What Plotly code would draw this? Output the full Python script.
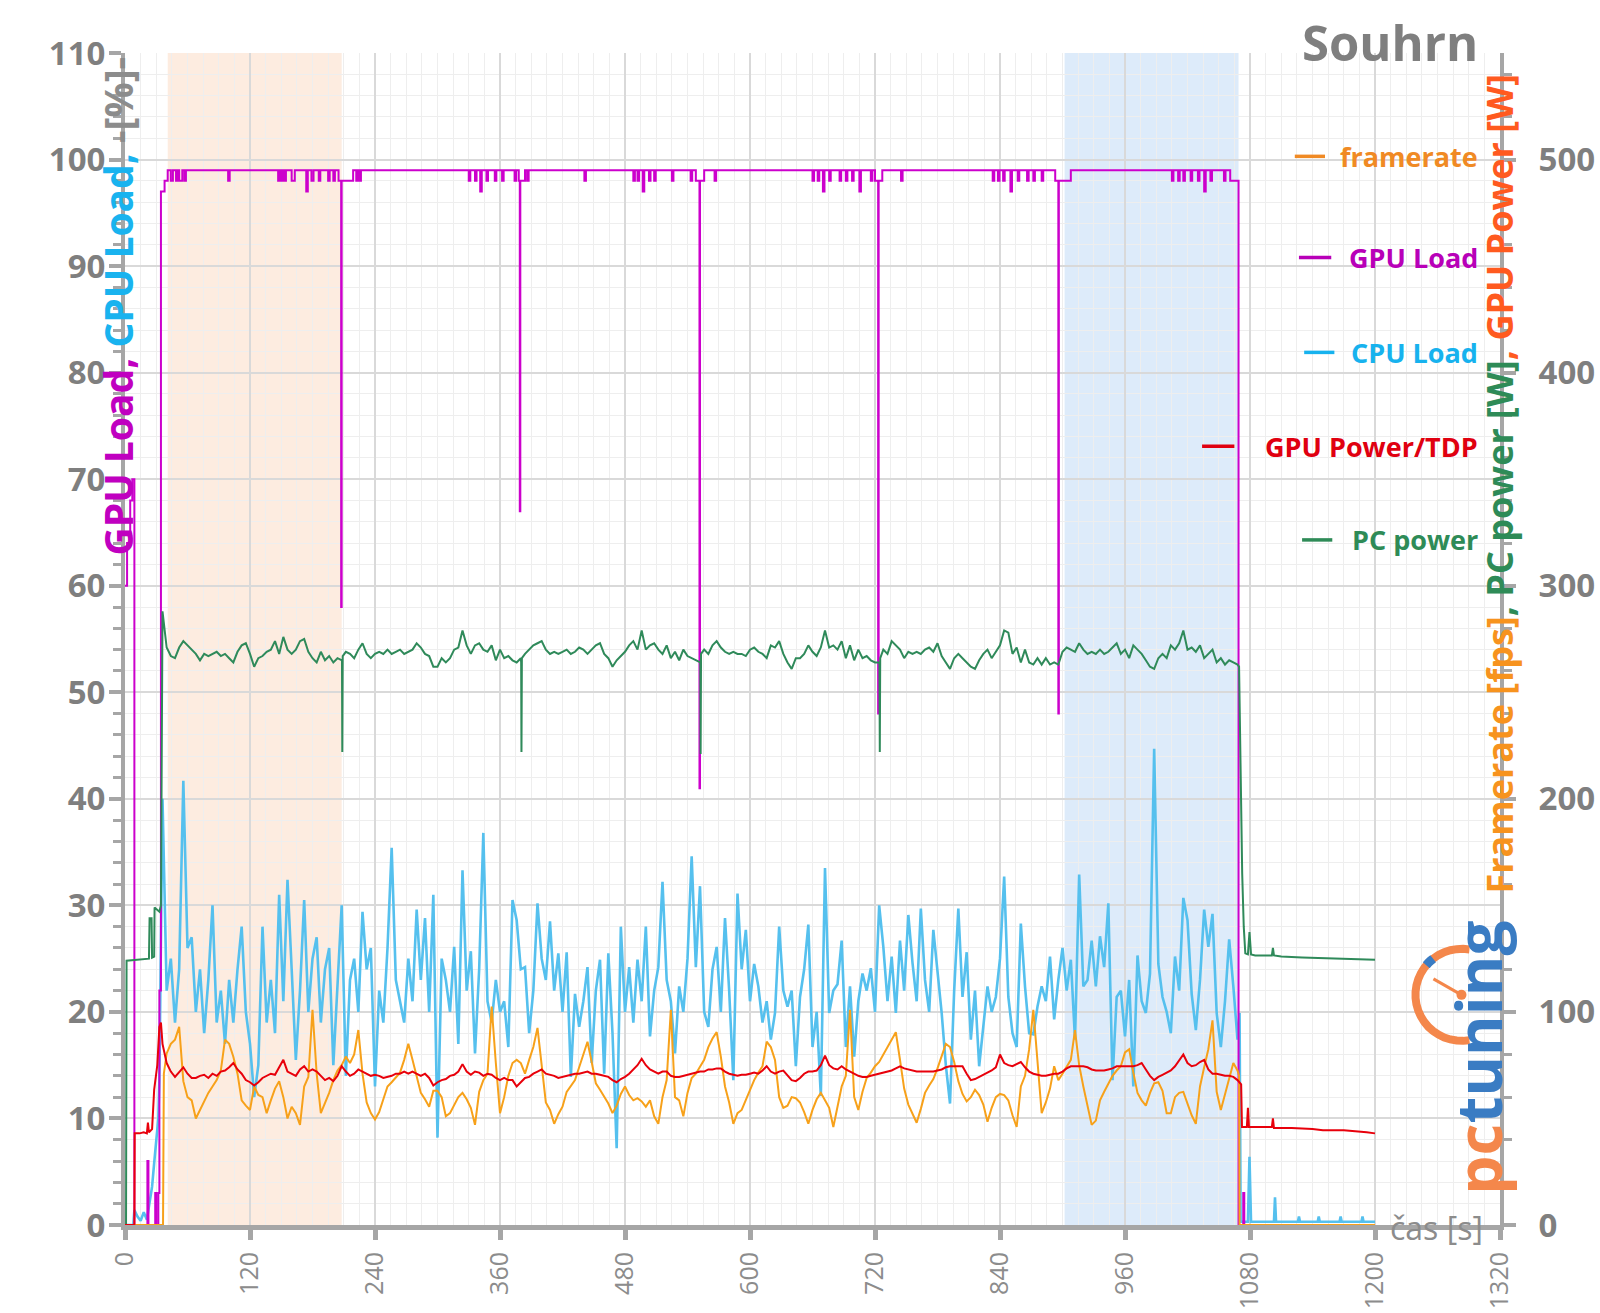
import math
import plotly.graph_objects as go

FONT = "Open Sans"

# ---------------- data ----------------
# Loaded segment sampled every 4 s starting at 36 s (CPU, PC power, GPU power) / 40 s (framerate)
grid_t = list(range(36, 1069, 4))
fps_grid_t = list(range(40, 1069, 4))

# CPU load [%]
cpu_t_pre = [0, 8, 9, 12, 15, 18, 21, 24, 26, 28, 30, 32, 33]
cpu_pre = [0, 0, 1.4, 0.8, 0.4, 1.2, 0.5, 2.5, 3.6, 5.8, 8, 10, 13.6]
cpu_load = [
    40, 22, 25, 19, 24, 41.7, 26, 27, 20, 24,
    18, 23, 30, 19, 22, 17, 23, 19, 24, 28,
    20, 17, 12, 15, 28, 19, 23, 18, 31, 21,
    32.4, 24, 15.5, 22, 30.5, 20, 25, 27, 19, 24,
    26, 15, 22, 30, 14, 23, 25, 20, 29.4, 24,
    26, 13, 22, 19, 26, 35.4, 23, 21, 19, 25,
    21, 29.6, 23, 28.8, 20, 31, 8.2, 25, 23, 20,
    26.1, 17, 33.3, 22, 25.7, 16.1, 24, 36.8, 21, 19,
    23, 20, 21, 16.7, 30.5, 28.6, 24, 24.2, 18, 22,
    30.2, 25, 23, 28.5, 22, 25.5, 20, 25.6, 13.9, 21.7,
    18.6, 21, 24.2, 15.2, 22, 24.9, 14.2, 25.5, 18, 7.2,
    28, 20, 24.2, 19, 24.9, 21, 28, 17.7, 22, 24.2,
    32.2, 23, 21, 16.1, 22.4, 20, 25, 34.6, 24.2, 31.8,
    20, 18.6, 24, 26.1, 20, 28.8, 22, 13.6, 31.1, 24,
    27.7, 21, 24.5, 22.4, 19, 21, 17.4, 19.9, 28, 22,
    20.5, 22, 14.9, 21.4, 24, 28.2, 16.7, 20, 12.1, 33.5,
    19.9, 22, 22.6, 26.7, 16.7, 22.4, 15.8, 21, 23.6, 22,
    24.1, 20, 30, 26.1, 21, 25.2, 19.9, 26.7, 22, 29.1,
    24.6, 21, 29.7, 23, 20, 27.7, 23.6, 19.9, 15, 11.4,
    22, 29.7, 21.4, 25.6, 17.4, 22, 14.9, 19, 22.4, 20,
    21.4, 25, 32.7, 21.4, 18, 16.7, 28.3, 22.4, 18, 17.9,
    20.5, 22.4, 21, 25.2, 19.3, 23, 26, 22, 24.9, 17.4,
    32.9, 22.4, 23, 26.7, 22.4, 27.1, 24.2, 30.2, 13.6, 21.4,
    22, 17.7, 23, 13, 25.3, 21, 19.9, 23.6, 44.7, 24.5,
    21.4, 20, 18, 25.2, 22, 30.7, 28.6, 21.7, 18.3, 23,
    29.6, 26.1, 29.2, 19.9, 16.7, 21, 26.8, 22.4, 17.4,
]
cpu_t_post = [1070, 1071, 1078, 1079.5, 1081, 1103, 1104, 1105, 1126, 1127, 1128,
              1145, 1146, 1147, 1166, 1167, 1168, 1187, 1188, 1189, 1200]
cpu_post = [19.9, 0.3, 0.3, 6.4, 0.3, 0.3, 2.6, 0.3, 0.3, 0.8, 0.3,
            0.3, 0.8, 0.3, 0.3, 0.8, 0.3, 0.3, 0.8, 0.3, 0.3]

# Framerate [fps]
fps_t_pre = [0, 36.5, 37.3]
fps_pre = [0, 0, 71]
framerate = [
    80.5, 85, 87, 93, 67.5, 60, 58.5, 50, 54, 57.5,
    62, 65, 68, 72.5, 87, 85, 79, 71, 58.5, 56,
    54, 65, 61, 60, 52.5, 58.5, 64, 67.5, 60, 50,
    55.5, 52.5, 47, 65, 69.5, 101, 71, 52.5, 57.5, 62,
    68, 72.5, 75, 79, 76, 80, 91.5, 71, 57.5, 52.5,
    49.5, 53, 59, 65, 67, 69, 71.5, 77.5, 85, 77.5,
    69.5, 62, 59, 55.5, 63, 63, 60, 51, 52.5, 56,
    60, 62, 59, 55, 47, 62.5, 68, 71, 102.5, 76,
    52.5, 60, 70, 76, 77.5, 76, 71, 77.5, 83.5, 92.5,
    74.5, 57.5, 54, 47.5, 52, 55.5, 62.5, 65, 68, 74,
    80.5, 86, 76.5, 66.5, 63.5, 60, 57, 52.5, 56, 61.5,
    65, 61, 58.5, 59.5, 58, 55.5, 58.5, 51, 47.5, 60,
    68, 101, 60, 58.5, 51, 62, 69, 71, 74.5, 77.5,
    83.5, 87.5, 90.5, 79, 65, 57.5, 47.5, 52.5, 54, 58.5,
    63, 68, 71.5, 74.5, 86, 83.5, 77.5, 60, 55, 56,
    60, 59.5, 57.5, 53, 47.5, 54, 59, 62, 58.5, 55,
    46, 55, 65, 70, 101, 60, 54, 62.5, 69, 71.5,
    74.5, 76.5, 80, 84, 87, 90.5, 77.5, 64, 56.5, 52.5,
    48, 54.5, 62, 65.5, 68.5, 73.5, 79, 85, 83.5, 76.5,
    67.5, 61.5, 58, 60, 63.5, 61, 56.5, 48.5, 55, 60,
    61.5, 61, 58.5, 51.5, 46, 65, 70, 82.5, 101, 74.5,
    52.5, 57.5, 64, 74.5, 68, 71, 74.5, 77.5, 91.5, 75,
    65, 55.5, 47, 49, 58.5, 62.5, 66.5, 70, 72.5, 74.5,
    81, 82.5, 71.5, 62, 58.5, 56, 62, 66.5, 67, 63,
    52.5, 52.5, 60, 62, 62.5, 57, 51.5, 47.5, 65, 74,
    82.5, 96, 62.5, 54, 61.5, 68, 76, 72.5,
]
fps_t_post = [1069.5, 1070, 1200]
fps_post = [70, 0, 0]

# GPU power [W]
gpup_t_pre = [0, 9, 9.3, 14, 18, 21, 22, 23, 26, 28, 31, 33, 34.5]
gpup_pre = [0, 0, 43, 43, 43.5, 43, 48, 43.5, 45, 63.5, 75, 93, 95]
gpu_power = [
    85, 76, 72, 69.5, 72, 74, 71, 69, 69, 70,
    70.5, 69, 71, 70, 72, 72.5, 74, 76, 73, 71,
    68, 67, 65.5, 67, 69, 70, 71, 70.5, 74, 77.5,
    72, 71, 70, 73, 74.5, 72, 73, 72, 70, 68,
    69, 67.5, 70, 74.5, 72, 70, 71, 73, 72, 71,
    70, 70.5, 70, 69, 69.5, 70, 71, 71, 72, 71,
    72, 71, 70, 71, 69, 65.5, 67, 68, 68.5, 70,
    70.5, 72, 75.5, 72, 70.5, 72, 71.5, 70, 71, 70.5,
    69, 68, 69, 68, 68, 65, 67, 69, 69.5, 71,
    72, 73, 71, 70.5, 70, 69, 69.5, 70, 70.5, 71,
    71, 71.5, 72, 71, 71, 70.5, 70, 69.5, 68, 67,
    68.5, 69.5, 71, 73, 75, 78, 75, 73, 72, 71,
    72, 72, 70, 69.5, 69.5, 70, 70.5, 71, 71.5, 72,
    72, 73, 73, 73.5, 73.5, 72, 71, 70.5, 70, 70.5,
    70.5, 71, 71.5, 71, 72.5, 74.5, 72, 71, 72, 72.5,
    70, 68, 67.5, 69, 71, 72, 72, 72.5, 75, 79.5,
    75, 73.5, 73, 74.5, 73, 72, 71, 70, 69.5, 69.5,
    70, 70.5, 71, 71.5, 72, 72.5, 73.5, 74.5, 73.5, 73,
    72.5, 72, 72, 72, 72, 72, 72.5, 73, 74, 74.5,
    74.5, 74.5, 74.5, 71, 68, 68.5, 69.5, 70.5, 71.5, 72.5,
    74, 80, 76, 75, 74.5, 75.5, 76.5, 74, 72, 71,
    70.5, 70, 70, 70.5, 71, 71, 72, 73.5, 74.5, 74.5,
    74.5, 74.5, 74, 73, 72.5, 72.5, 72.5, 73, 73.5, 74.5,
    74.5, 74.5, 74.5, 74.5, 75, 76, 73, 70, 68, 69.5,
    70.5, 71.5, 72.5, 74.5, 77, 80, 76, 74.5, 75, 76.5,
    77.5, 73, 71, 71, 70.5, 70, 70, 69.5, 68,
]
gpup_t_post = [1070, 1071.5, 1072.3, 1077, 1078, 1079, 1101, 1102, 1103, 1120,
               1140, 1150, 1170, 1185, 1192, 1200]
gpup_post = [67, 66, 46, 46, 55, 46, 46, 50, 45.5, 45.5,
             45, 44.5, 44.5, 44, 43.5, 43]

# PC power [W]
pcp_t_pre = [0, 1, 1.5, 10, 20, 23, 23.6, 25.5, 26, 28, 28.4, 31, 33, 34.5]
pcp_pre = [0, 0, 124, 124.5, 125, 125, 144, 144, 125.5, 126, 149, 148, 147, 150]
pc_power = [
    288, 271, 267, 266, 271, 274, 272, 270, 268, 265,
    268, 267, 268, 269, 267, 268, 266, 264, 269, 272,
    273, 268, 262, 266, 267, 269, 270, 274, 268, 276,
    270, 268, 270, 274, 275, 269, 266, 264, 269, 265,
    267, 264, 266, 265, 269, 268, 266, 270, 273, 268,
    266, 268, 269, 268, 270, 268, 269, 270, 268, 269,
    270, 273, 271, 268, 267, 262, 262, 266, 264, 266,
    270, 271, 279, 272, 268, 272, 273, 270, 269, 272,
    265, 270, 266, 267, 265, 264, 266, 268, 270, 272,
    273, 274, 270, 268, 269, 268, 269, 270, 268, 269,
    271, 270, 268, 270, 272, 273, 268, 266, 262, 265,
    267, 269, 272, 274, 270, 279, 270, 272, 273, 270,
    268, 272, 266, 269, 265, 270, 267, 266, 265, 264,
    270, 268, 272, 274, 271, 269, 268, 269, 268, 268,
    267, 270, 271, 269, 268, 266, 272, 271, 274, 268,
    264, 261, 266, 266, 268, 272, 269, 267, 271, 279,
    271, 272, 270, 274, 266, 272, 265, 270, 266, 267,
    265, 264, 264, 270, 268, 274, 272, 270, 266, 269,
    268, 269, 268, 270, 271, 269, 273, 267, 264, 261,
    266, 268, 266, 264, 262, 261, 265, 268, 270, 266,
    269, 272, 279, 278, 268, 271, 264, 270, 264, 263,
    266, 263, 266, 263, 264, 263, 269, 271, 270, 269,
    273, 270, 268, 269, 268, 270, 268, 269, 271, 273,
    268, 270, 266, 272, 270, 268, 265, 262, 261, 266,
    268, 266, 272, 270, 273, 279, 270, 271, 269, 272,
    266, 268, 270, 264, 266, 263, 265, 264, 263,
]
# short PC-power drops (s, W)
pcp_dip_t = [208.3, 208.6, 209.0, 380.3, 380.6, 381.0, 552.3, 552.6, 553.0, 724.3, 724.6, 725.0]
pcp_dip_v = [265, 222, 267, 264, 222, 266, 264, 221, 268, 264, 222, 266]
pcp_t_post = [1069.5, 1070.5, 1071.5, 1072.5, 1074, 1075.5, 1078, 1079.5, 1081, 1085,
              1101, 1102, 1103, 1110, 1130, 1160, 1180, 1200]
pcp_post = [262, 230, 190, 165, 140, 127.5, 127, 137.5, 127, 126.5,
            126.5, 130, 126.5, 126, 125.5, 125, 125, 124.5]

# GPU load [%] (step changes)
gpu_load_t = [
    0, 2, 5, 7, 9, 21.5, 22.5, 29, 30, 32, 33, 34.5, 38, 41, 44, 46, 49, 50.5, 52, 55, 57, 58.5,
    99, 100.5, 147, 148.5, 150, 151.5, 153, 154.5, 160, 163, 174, 175.5, 179, 181, 186, 187.5,
    195, 196.5, 200, 201.5, 205, 207.5, 208, 219, 222, 223.5, 225, 226.5,
    330, 331.5, 336, 337.5, 341, 342.5, 347, 348.5, 355, 356.5, 362, 363.5, 374, 375.5,
    378, 379, 379.5, 384, 386, 387.5,
    441, 442.5, 488, 489.5, 492, 493.5, 497, 498.5, 503, 504.5, 508, 509.5, 525, 526.5,
    543, 544.5, 548, 551.5, 552, 556, 566, 567.5,
    660, 661.5, 665, 666.5, 670, 671.5, 676, 677.5, 686, 687.5, 692, 693.5, 698, 699.5,
    705, 706.5, 716, 717.5, 720, 723, 723.5, 727,
    745, 746.5, 833, 834.5, 838, 839.5, 843, 844.5, 850, 851.5, 857, 858.5, 866, 867.5,
    872, 873.5, 880, 881.5, 893, 896, 896.5, 908,
    1005, 1006.5, 1011, 1012.5, 1016, 1017.5, 1023, 1024.5, 1030, 1031.5, 1036, 1037.5,
    1042, 1043.5, 1055, 1056.5, 1061, 1069, 1073.5, 1074.5, 1200,
]
gpu_load_v = [
    60, 64, 68, 70, 0, 6, 0, 3, 0, 3, 22, 97, 98, 99, 98, 99, 98, 99, 98, 99, 98, 99,
    98, 99, 98, 99, 98, 99, 98, 99, 98, 99, 97, 99, 98, 99, 98, 99,
    98, 99, 98, 99, 98, 58, 98, 99, 98, 99, 98, 99,
    98, 99, 98, 99, 97, 99, 98, 99, 98, 99, 98, 99, 98, 99,
    98, 67, 98, 99, 98, 99,
    98, 99, 98, 99, 98, 99, 97, 99, 98, 99, 98, 99, 98, 99,
    98, 99, 98, 41, 98, 99, 98, 99,
    98, 99, 98, 99, 97, 99, 98, 99, 98, 99, 98, 99, 98, 99,
    97, 99, 98, 99, 98, 48, 98, 99,
    98, 99, 98, 99, 98, 99, 98, 99, 97, 99, 98, 99, 98, 99,
    98, 99, 98, 99, 98, 48, 98, 99,
    98, 99, 98, 99, 98, 99, 98, 99, 98, 99, 97, 99,
    98, 99, 98, 99, 98, 0, 3, 0, 0,
]

orange_band = (41, 208)
blue_band = (902, 1069)

x_ticks = list(range(0, 1321, 120))
left_ticks = list(range(0, 111, 10))
right_ticks = list(range(0, 501, 100))

for name, vals, tt in [("cpu", cpu_load, grid_t), ("fps", framerate, fps_grid_t),
                       ("gpup", gpu_power, grid_t), ("pcp", pc_power, grid_t)]:
    assert len(vals) == len(tt), (name, len(vals), len(tt))
assert len(gpu_load_t) == len(gpu_load_v), (len(gpu_load_t), len(gpu_load_v))

# merge PC-power drops into the regular samples (sorted by time)
pcp_pairs = sorted(list(zip(pcp_t_pre + grid_t + pcp_t_post, pcp_pre + pc_power + pcp_post))
                   + list(zip(pcp_dip_t, pcp_dip_v)))
pcp_x = [p[0] for p in pcp_pairs]
pcp_y = [p[1] for p in pcp_pairs]

# ---------------- colours ----------------
C_GPU = "#cc00cc"
C_CPU = "#55c0ee"
C_FPS = "#f7a11a"
C_GPUP = "#e8000b"
C_PCP = "#2f8a5a"
GRAY = "#8c8c8c"
AXIS = "#a6a6a6"

fig = go.Figure()

fig.add_trace(go.Scatter(x=cpu_t_pre + grid_t + cpu_t_post, y=cpu_pre + cpu_load + cpu_post,
                         mode="lines", line=dict(color=C_CPU, width=2.6), name="CPU Load"))
fig.add_trace(go.Scatter(x=gpu_load_t, y=gpu_load_v, mode="lines",
                         line=dict(color=C_GPU, width=2, shape="hv"), name="GPU Load"))
fig.add_trace(go.Scatter(x=pcp_x, y=pcp_y,
                         mode="lines", line=dict(color=C_PCP, width=2), name="PC power", yaxis="y2"))
fig.add_trace(go.Scatter(x=fps_t_pre + fps_grid_t + fps_t_post, y=fps_pre + framerate + fps_post,
                         mode="lines", line=dict(color=C_FPS, width=2), name="framerate", yaxis="y2"))
fig.add_trace(go.Scatter(x=gpup_t_pre + grid_t + gpup_t_post, y=gpup_pre + gpu_power + gpup_post,
                         mode="lines", line=dict(color=C_GPUP, width=2), name="GPU Power/TDP", yaxis="y2"))

shapes = [
    dict(type="rect", xref="x", yref="paper", x0=orange_band[0], x1=orange_band[1], y0=0, y1=1,
         fillcolor="#fdece0", line=dict(width=0), layer="below"),
    dict(type="rect", xref="x", yref="paper", x0=blue_band[0], x1=blue_band[1], y0=0, y1=1,
         fillcolor="#ddebfa", line=dict(width=0), layer="below"),
]

# pctuning logo gauge (decoration)
R = 46
arc = " ".join(("M" if i == 0 else "L") + f"{R*math.cos(math.radians(a)):.1f},{R*math.sin(math.radians(a)):.1f}"
               for i, a in enumerate(range(80, 281, 8)))
gauge_common = dict(xref="x", yref="y", xsizemode="pixel", ysizemode="pixel", xanchor=1283, yanchor=21.6)
shapes.append(dict(type="path", path=arc, line=dict(color="#f4874b", width=8), **gauge_common))
mk = " ".join(("M" if i == 0 else "L") + f"{R*math.cos(math.radians(a)):.1f},{R*math.sin(math.radians(a)):.1f}"
              for i, a in enumerate(range(128, 141, 4)))
shapes.append(dict(type="path", path=mk, line=dict(color="#3a7cc3", width=9), **gauge_common))
shapes.append(dict(type="path", path="M0,0 L-28,16", line=dict(color="#f4874b", width=3), **gauge_common))
shapes.append(dict(type="circle", x0=-5, x1=5, y0=-5, y1=5, fillcolor="#f4874b",
                   line=dict(width=0), **gauge_common))

ann = []
# legend (custom): label, colour, y (left-axis units), dash x-range (s)
legend_items = [("framerate", "#f08a24", 100.3, (1123, 1152)),
                ("GPU Load", "#b800b8", 90.8, (1127, 1158)),
                ("CPU Load", "#17b2ee", 81.9, (1132, 1161)),
                ("GPU Power/TDP", "#e00010", 73.1, (1034, 1065)),
                ("PC power", "#2e8b57", 64.3, (1130, 1159))]
for label, col, yv, (d0, d1) in legend_items:
    ann.append(dict(x=1301, y=yv, xref="x", yref="y", xanchor="right", yanchor="middle",
                    text=label, showarrow=False,
                    font=dict(family=FONT, size=27, color=col, weight="bold")))
    shapes.append(dict(type="line", xref="x", yref="y", x0=d0, x1=d1, y0=yv, y1=yv,
                       line=dict(color=col, width=3.5)))

ann.append(dict(x=1301, y=1, xref="x", yref="paper", xanchor="right", yanchor="middle", yshift=11,
                text="Souhrn", showarrow=False,
                font=dict(family=FONT, size=49, color="#7f7f7f", weight="bold")))
ann.append(dict(x=1259, y=0, xref="x", yref="y", xanchor="center", yanchor="middle", yshift=-2,
                text="čas [s]", showarrow=False, font=dict(family=FONT, size=32, color=GRAY)))
ann.append(dict(x=0, y=86.2, xref="paper", yref="y", xanchor="center", yanchor="middle", xshift=-7,
                textangle=-90, showarrow=False,
                text="<span style='color:#c000c0'>GPU Load, </span><span style='color:#19b3ef'>CPU Load, </span>"
                     "<span style='color:#8c8c8c'>-[%]-</span>",
                font=dict(family=FONT, size=39, weight="bold")))
ann.append(dict(x=1, y=69.5, xref="paper", yref="y", xanchor="center", yanchor="middle",
                textangle=-90, showarrow=False,
                text="<span style='color:#f7931e'>Framerate [fps]</span><span style='color:#2e8b57'>, PC power [W]</span>"
                     "<span style='color:#ff5a1f'>, GPU Power [W]</span>",
                font=dict(family=FONT, size=36, weight="bold")))
ann.append(dict(x=1, y=15.7, xref="paper", yref="y", xanchor="center", yanchor="middle", xshift=-22,
                textangle=-90, showarrow=False,
                text="<span style='color:#f4874b'>pc</span><span style='color:#3a7cc3'>tuning</span>",
                font=dict(family=FONT, size=62, weight="bold")))

fig.update_layout(
    width=1600, height=1313,
    margin=dict(l=125, r=100, t=53, b=88),
    paper_bgcolor="white", plot_bgcolor="white",
    showlegend=False,
    shapes=shapes, annotations=ann,
    xaxis=dict(range=[0, 1320], tickvals=x_ticks, tickangle=-90, ticks="outside", ticklen=10,
               tickwidth=5, tickcolor=AXIS, showline=True, linewidth=5, linecolor=AXIS,
               showgrid=True, gridcolor="#d9d9d9", gridwidth=2, zeroline=False,
               ticklabelstandoff=2, automargin=False,
               minor=dict(dtick=15, tick0=0, showgrid=True, gridcolor="#eeeeee", gridwidth=1),
               tickfont=dict(family=FONT, size=25, color=GRAY)),
    yaxis=dict(range=[0, 110], tickvals=left_ticks, ticks="outside", ticklen=12, tickwidth=4,
               tickcolor=AXIS, showline=True, linewidth=4, linecolor=AXIS,
               showgrid=True, gridcolor="#d9d9d9", gridwidth=2, zeroline=False,
               ticklabelstandoff=-3, automargin=False,
               minor=dict(dtick=2, tick0=0, ticks="outside", ticklen=8, tickwidth=3, tickcolor=AXIS,
                          showgrid=True, gridcolor="#eeeeee", gridwidth=1),
               tickfont=dict(family=FONT, size=33, color="#7f7f7f", weight="bold")),
    yaxis2=dict(range=[0, 550], tickvals=right_ticks, overlaying="y", side="right", ticks="outside",
                ticklen=12, tickwidth=4, tickcolor=AXIS, showline=True, linewidth=4, linecolor=AXIS,
                showgrid=False, zeroline=False, ticklabelstandoff=16, automargin=False,
                minor=dict(dtick=20, tick0=0, ticks="outside", ticklen=8, tickwidth=3, tickcolor=AXIS),
                tickfont=dict(family=FONT, size=33, color="#7f7f7f", weight="bold")),
)

fig.write_html("out.html")
